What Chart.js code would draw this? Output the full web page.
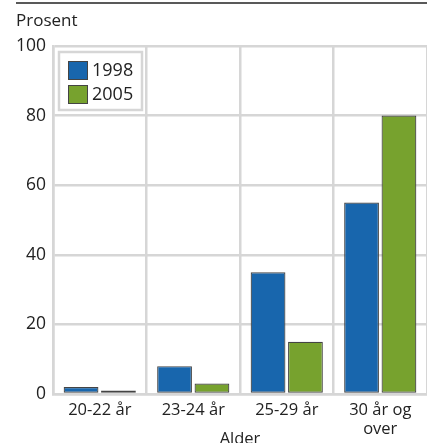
<!DOCTYPE html>
<html>
<head>
<meta charset="utf-8">
<script src="https://cdn.jsdelivr.net/npm/chart.js@4"></script>
<style>
  html, body { margin: 0; padding: 0; background: #fff; }
  #wrap { width: 427px; height: 443px; }
</style>
</head>
<body>
<div id="wrap"><canvas id="chart" width="427" height="443"></canvas></div>
<script>
const categories = ['20-22 år', '23-24 år', '25-29 år', ['30 år og', 'over']];
const values1998 = [2, 8, 35, 55];
const values2005 = [1, 3, 15, 80];
const yTicks = [0, 20, 40, 60, 80, 100];

const gridColor = '#d6d6d6';
const textColor = '#222';
const fontFamily = '"Open Sans", sans-serif';

// top rule and legend box inside the plot
const decor = {
  id: 'decor',
  beforeDraw(chart) {
    const ctx = chart.ctx;
    ctx.save();
    ctx.strokeStyle = '#222';
    ctx.lineWidth = 1.5;
    ctx.beginPath();
    ctx.moveTo(16, 3);
    ctx.lineTo(chart.width, 3);
    ctx.stroke();
    ctx.restore();
  },
  afterDatasetsDraw(chart) {
    const ctx = chart.ctx;
    const a = chart.chartArea;
    const x = a.left + 6, y = a.top + 6;
    ctx.save();
    ctx.fillStyle = '#fff';
    ctx.fillRect(x, y, 83, 58);
    ctx.strokeStyle = gridColor;
    ctx.lineWidth = 2.5;
    ctx.strokeRect(x, y, 83, 58);
    ctx.font = '18px ' + fontFamily;
    ctx.textBaseline = 'middle';
    chart.data.datasets.forEach((ds, i) => {
      const sy = y + 9 + i * 24;
      ctx.fillStyle = ds.backgroundColor;
      ctx.fillRect(x + 9, sy, 20, 19);
      ctx.strokeStyle = '#444';
      ctx.lineWidth = 1;
      ctx.strokeRect(x + 9.5, sy + 0.5, 19, 18);
      ctx.fillStyle = textColor;
      ctx.fillText(ds.label, x + 33, sy + 10);
    });
    ctx.restore();
  }
};

new Chart(document.getElementById('chart'), {
  type: 'bar',
  data: {
    labels: categories,
    datasets: [
      { label: '1998', data: values1998, backgroundColor: '#1866ad', borderColor: '#444', borderWidth: 1.2, borderSkipped: false },
      { label: '2005', data: values2005, backgroundColor: '#77a22e', borderColor: '#444', borderWidth: 1.2, borderSkipped: false }
    ]
  },
  options: {
    responsive: false,
    animation: false,
    layout: { padding: { left: 16, right: -3, top: 0, bottom: 0 } },
    datasets: { bar: { categoryPercentage: 0.8, barPercentage: 0.93 } },
    plugins: {
      legend: { display: false },
      tooltip: { enabled: false },
      title: {
        display: true,
        text: 'Prosent',
        align: 'start',
        color: textColor,
        font: { family: fontFamily, size: 17, weight: 'normal' },
        padding: { top: 11, bottom: 14.6 }
      }
    },
    scales: {
      x: {
        grid: { color: gridColor, lineWidth: 2.5, drawTicks: false, offset: true },
        border: { color: gridColor, width: 2.5 },
        ticks: {
          color: textColor,
          padding: 6,
          maxRotation: 0,
          font: { family: fontFamily, size: 16.5 }
        },
        title: {
          display: true,
          text: 'Alder',
          color: textColor,
          font: { family: fontFamily, size: 16.5 },
          padding: { top: 0, bottom: -6 }
        },
        afterFit: s => { s.height = 49; }
      },
      y: {
        min: 0,
        max: 100,
        grid: { color: gridColor, lineWidth: 2.5, drawTicks: false },
        border: { color: gridColor, width: 2.5 },
        afterBuildTicks: s => { s.ticks = yTicks.map(v => ({ value: v })); },
        ticks: {
          color: textColor,
          padding: 7,
          font: { family: fontFamily, size: 17.5 }
        },
        afterFit: s => { s.width = 37; }
      }
    }
  },
  plugins: [decor]
});
</script>
</body>
</html>
